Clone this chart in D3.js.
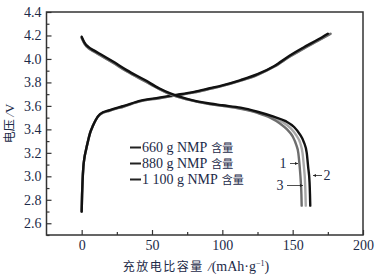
<!DOCTYPE html>
<html>
<head>
<meta charset="utf-8">
<script src="https://cdn.jsdelivr.net/npm/d3@7"></script>
<style>
  html, body { margin: 0; padding: 0; background: #fff; }
  svg { display: block; }
</style>
</head>
<body>
<div id="chart"></div>
<script>
// 数据：容量 (mAh/g) 与电压 (V)
const seriesNames = ['660 g NMP', '880 g NMP', '1 100 g NMP'];
const seriesSuffix = '含量';
const seriesColors = ['#6e6e6e', '#111111', '#a8a8a8'];

// 充电曲线
const charge1 = [[0,2.70],[0.3,2.85],[0.6,2.95],[1.2,3.08],[2,3.16],[3,3.22],[4.5,3.30],[6,3.37],[8,3.43],[10,3.48],[13,3.525],[20,3.56],[30,3.595],[42,3.64],[55,3.665],[65,3.685],[80,3.715],[91,3.745],[100,3.77],[113,3.815],[125,3.865],[137,3.935],[148,4.02],[158,4.09],[168,4.155],[177,4.215]];
const charge2 = [[0,2.70],[0.3,2.85],[0.6,2.95],[1.2,3.08],[2,3.16],[3,3.22],[4.5,3.30],[6,3.37],[8,3.43],[10,3.48],[13,3.53],[20,3.565],[30,3.60],[42,3.645],[55,3.67],[65,3.69],[80,3.72],[91,3.75],[100,3.775],[113,3.82],[125,3.87],[137,3.94],[148,4.03],[158,4.10],[168,4.165],[175,4.215]];
const charge3 = [[0,2.70],[0.3,2.85],[0.6,2.95],[1.2,3.08],[2,3.16],[3,3.22],[4.5,3.30],[6,3.37],[8,3.43],[10,3.48],[13,3.525],[20,3.56],[30,3.595],[42,3.64],[55,3.665],[65,3.685],[80,3.715],[91,3.745],[100,3.77],[113,3.815],[125,3.865],[137,3.935],[148,4.02],[158,4.09],[168,4.155],[176,4.21]];

// 放电曲线
const discharge1 = [[0,4.18],[2,4.13],[5,4.09],[8.3,4.065],[15,4.02],[22,3.97],[32,3.895],[45,3.81],[55,3.745],[63,3.70],[75,3.655],[91,3.615],[100,3.60],[113,3.575],[125,3.54],[134,3.50],[141,3.45],[146,3.40],[150,3.34],[152.5,3.27],[154,3.20],[155,3.08],[155.8,2.95],[156.2,2.85],[156.4,2.75]];
const discharge2 = [[0,4.19],[2,4.14],[5,4.10],[8.3,4.075],[15,4.03],[22,3.98],[32,3.905],[45,3.82],[55,3.75],[63,3.707],[75,3.66],[91,3.62],[100,3.605],[113,3.585],[125,3.55],[136,3.51],[145,3.47],[151,3.42],[155,3.36],[158,3.29],[160,3.20],[161,3.08],[162,2.95],[162.3,2.85],[162.5,2.75]];
const discharge3 = [[0,4.18],[2,4.13],[5,4.09],[8.3,4.065],[15,4.02],[22,3.97],[32,3.895],[45,3.81],[55,3.745],[63,3.70],[75,3.655],[91,3.615],[100,3.60],[113,3.58],[125,3.545],[135,3.505],[143,3.46],[148.5,3.41],[152.5,3.35],[155.5,3.28],[157,3.20],[158,3.08],[158.8,2.95],[159.1,2.85],[159.3,2.75]];

const xTicks = [0, 50, 100, 150, 200];
const yTicks = [2.6, 2.8, 3.0, 3.2, 3.4, 3.6, 3.8, 4.0, 4.2, 4.4];

const width = 376, height = 277;
const margin = { left: 46.5, right: 13, top: 12, bottom: 42 };

const svg = d3.select('#chart').append('svg')
    .attr('width', width)
    .attr('height', height);

const x = d3.scaleLinear().domain([-25, 200]).range([margin.left, width - margin.right]);
const y = d3.scaleLinear().domain([2.5, 4.4]).range([height - margin.bottom, margin.top]);

const serif = '"Liberation Serif", "Times New Roman", serif';
const cjk = '"Noto Sans CJK SC", sans-serif';
const textColor = '#1c2a48';

// 曲线
const line = d3.line()
    .x(d => x(d[0]))
    .y(d => y(d[1]))
    .curve(d3.curveMonotoneX);

const curves = [
    { data: charge3, color: seriesColors[2] },
    { data: charge1, color: seriesColors[0] },
    { data: charge2, color: seriesColors[1] },
    { data: discharge3, color: seriesColors[2] },
    { data: discharge1, color: seriesColors[0] },
    { data: discharge2, color: seriesColors[1] }
];

svg.append('g')
    .selectAll('path')
    .data(curves)
    .enter().append('path')
    .attr('d', d => line(d.data))
    .attr('fill', 'none')
    .attr('stroke', d => d.color)
    .attr('stroke-width', 2.4)
    .attr('stroke-linecap', 'round')
    .attr('stroke-linejoin', 'round');

// 坐标轴
const xAxis = svg.append('g')
    .attr('transform', `translate(0,${y.range()[0]})`)
    .call(d3.axisBottom(x).tickValues(xTicks).tickSize(-5).tickPadding(5).tickFormat(d3.format('d')));

const xMinor = svg.append('g')
    .attr('transform', `translate(0,${y.range()[0]})`)
    .call(d3.axisBottom(x).tickValues([25, 75, 125, 175]).tickSize(-3).tickFormat(''));

const yAxis = svg.append('g')
    .attr('transform', `translate(${x.range()[0]},0)`)
    .call(d3.axisLeft(y).tickValues(yTicks).tickSize(-5).tickPadding(5).tickFormat(d3.format('.1f')));

const yMinor = svg.append('g')
    .attr('transform', `translate(${x.range()[0]},0)`)
    .call(d3.axisLeft(y).tickValues(d3.range(2.5, 4.45, 0.2)).tickSize(-3).tickFormat(''));

[xAxis, xMinor, yAxis, yMinor].forEach(g => {
    g.select('.domain').remove();
    g.selectAll('line').attr('stroke', '#333').attr('stroke-width', 1.2);
    g.selectAll('text')
        .attr('fill', textColor)
        .style('font-family', serif)
        .style('font-size', '14px');
});

// 边框
svg.append('rect')
    .attr('x', x.range()[0])
    .attr('y', y.range()[1])
    .attr('width', x.range()[1] - x.range()[0])
    .attr('height', y.range()[0] - y.range()[1])
    .attr('fill', 'none')
    .attr('stroke', '#333')
    .attr('stroke-width', 1.5);

// 轴标题
svg.append('text')
    .attr('transform', `translate(14,${(y.range()[0] + y.range()[1]) / 2}) rotate(-90)`)
    .attr('text-anchor', 'middle')
    .attr('fill', textColor)
    .style('font-size', '12px')
    .style('font-family', cjk)
    .html('电压 <tspan font-family=\'' + serif + '\' font-style="italic" font-size="13px">/</tspan><tspan font-family=\'' + serif + '\' font-size="13px">V</tspan>');

const xt = svg.append('text')
    .attr('x', 196)
    .attr('y', 271)
    .attr('text-anchor', 'middle')
    .attr('fill', textColor)
    .style('font-size', '12px')
    .style('font-family', cjk);
xt.append('tspan').style('letter-spacing', '1.5px').text('充放电比容量 ');
xt.append('tspan').style('font-family', serif).style('font-style', 'italic').style('font-size', '13px').text('/');
xt.append('tspan').style('font-family', serif).style('font-size', '14px').text('(mAh·g');
xt.append('tspan').style('font-family', serif).style('font-size', '8px').attr('dy', -5).text('−1');
xt.append('tspan').style('font-family', serif).style('font-size', '14px').attr('dy', 5).text(')');

// 图例
const legend = svg.append('g');
seriesNames.forEach((name, i) => {
    const ly = 147.5 + i * 16;
    legend.append('line')
        .attr('x1', 130).attr('x2', 141)
        .attr('y1', ly).attr('y2', ly)
        .attr('stroke', '#222')
        .attr('stroke-width', 2);
    const t = legend.append('text')
        .attr('x', 142)
        .attr('y', ly + 4.5)
        .attr('fill', textColor)
        .style('font-size', '14px')
        .style('font-family', serif)
        .text(name);
    const w = t.node().getComputedTextLength();
    legend.append('text')
        .attr('x', 142 + w + 4)
        .attr('y', ly + 4.5)
        .attr('fill', textColor)
        .style('font-size', '11px')
        .style('font-family', cjk)
        .text(seriesSuffix);
});

// 曲线编号
const tags = [
    { label: '1', tx: 283, ty: 168, x1: 290, x2: 298 },
    { label: '3', tx: 280, ty: 190, x1: 287, x2: 303 },
    { label: '2', tx: 327, ty: 180, x1: 322, x2: 313 }
];
tags.forEach(d => {
    svg.append('text')
        .attr('x', d.tx).attr('y', d.ty)
        .attr('text-anchor', 'middle')
        .attr('fill', textColor)
        .style('font-size', '14px')
        .style('font-family', serif)
        .text(d.label);
    const ay = d.ty - 4.5;
    svg.append('line')
        .attr('x1', d.x1).attr('x2', d.x2)
        .attr('y1', ay).attr('y2', ay)
        .attr('stroke', '#222').attr('stroke-width', 0.8);
    const dir = Math.sign(d.x2 - d.x1);
    svg.append('path')
        .attr('d', `M${d.x2},${ay} l${-3 * dir},-1.5 l0,3 z`)
        .attr('fill', '#222');
});
</script>
</body>
</html>
